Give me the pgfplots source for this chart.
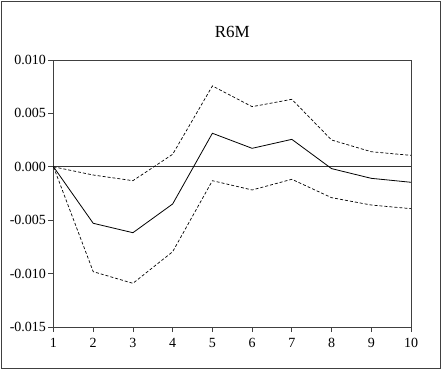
\documentclass[border=0pt]{standalone}
\usepackage{pgfplots}
\pgfplotsset{compat=1.18}
\usepackage{fontspec}
\setmainfont{Liberation Serif}
\begin{document}
\begin{tikzpicture}[x=1pt,y=1pt]
\useasboundingbox (-53.5,-44) rectangle (389.5,327);
\draw[line width=1pt, black!75] (-51.5,-41) rectangle (386.5,325);
\begin{axis}[
  at={(0,0)}, anchor=south west,
  scale only axis, width=357.5pt, height=267pt,
  xmin=1, xmax=10, ymin=-0.015, ymax=0.010,
  xtick={1,...,10},
  ytick={-0.015,-0.010,-0.005,0,0.005,0.010},
  yticklabels={-0.015,-0.010,-0.005,0.000,0.005,0.010},
  tick align=outside, tick pos=left,
  major tick length=5pt,
  tick style={black!75, line width=0.8pt},
  axis line style={black!75, line width=0.8pt},
  /pgf/number format/assume math mode=true,
  ticklabel style={font=\fontsize{14}{16}\selectfont},
  xticklabel style={yshift=-3pt},
  yticklabel style={xshift=1pt},
  title={R6M},
  title style={font=\fontsize{17}{19}\selectfont, at={(0.5,1)}, anchor=base, yshift=16pt},
  scaled y ticks=false,
  clip=false,
]
\addplot[black!80, line width=0.8pt] coordinates {(1,0) (10,0)};
\addplot[black, line width=0.8pt] coordinates {
(1,0) (2,-0.00529) (3,-0.00617) (4,-0.00348) (5,0.00314) (6,0.00173) (7,0.00257) (8,-0.00017) (9,-0.00108) (10,-0.00145)};
\addplot[black, line width=0.7pt, dash pattern=on 3pt off 2pt] coordinates {
(1,0) (2,-0.00077) (3,-0.00130) (4,0.00117) (5,0.00757) (6,0.00563) (7,0.00632) (8,0.00251) (9,0.00141) (10,0.00107)};
\addplot[black, line width=0.7pt, dash pattern=on 3pt off 2pt] coordinates {
(1,0) (2,-0.00982) (3,-0.01091) (4,-0.00795) (5,-0.00130) (6,-0.00217) (7,-0.00117) (8,-0.00289) (9,-0.00358) (10,-0.00392)};
\end{axis}
\end{tikzpicture}
\end{document}
